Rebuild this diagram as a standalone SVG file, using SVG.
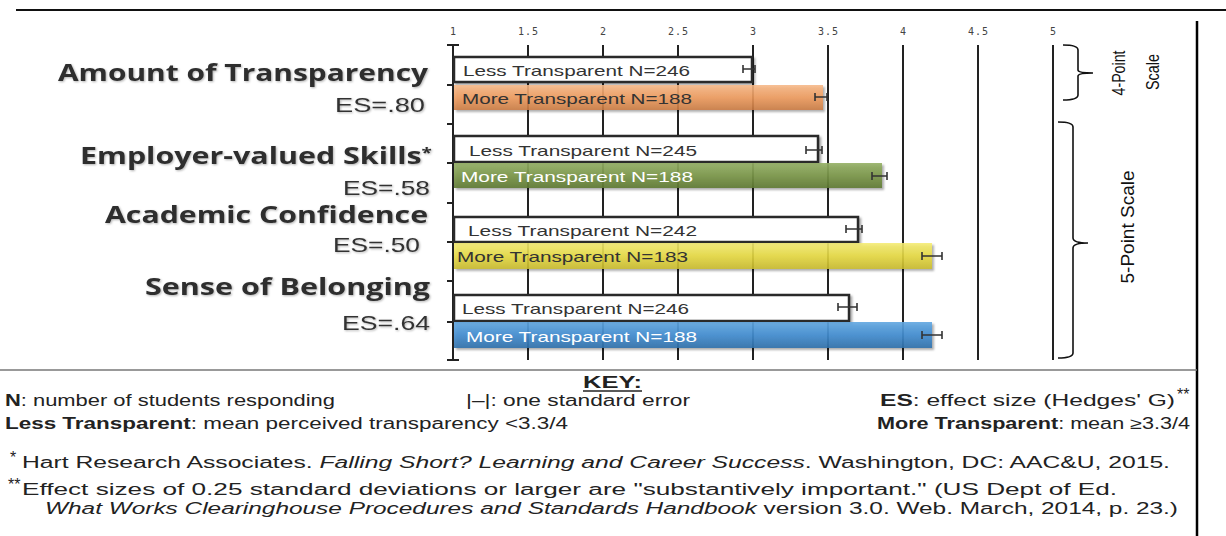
<svg xmlns="http://www.w3.org/2000/svg" width="1226" height="536" viewBox="0 0 1226 536">
<style>
.lab{font-family:"Open Sans","DejaVu Sans",sans-serif;font-weight:700;font-size:24px;fill:#2e2e2e;}
.es{font-family:"Liberation Sans",Arial,sans-serif;font-size:21px;fill:#333;}
.bt{font-family:"Liberation Sans",Arial,sans-serif;font-size:15px;fill:#333;}
.bw{font-family:"Liberation Sans",Arial,sans-serif;font-size:15px;fill:#fff;}
.ax{font-family:"DejaVu Sans Mono",monospace;font-size:10px;fill:#444;text-anchor:middle;}
.grid{stroke:#222;stroke-width:2;fill:none;}
.less{fill:#fff;stroke:#2a2a2a;stroke-width:2.5;}
.err{stroke:#333;stroke-width:1.6;fill:none;}
.br{stroke:#111;stroke-width:1.6;fill:none;}
.sc{font-family:"Liberation Sans",Arial,sans-serif;fill:#111;text-anchor:middle;}
.k{font-family:"Liberation Sans",Arial,sans-serif;font-size:16px;fill:#222;}
.b{font-weight:700;}
.i{font-style:italic;}
</style>
<defs>
<filter id="sh" x="-5%" y="-20%" width="110%" height="160%">
<feDropShadow dx="2" dy="2" stdDeviation="1.2" flood-color="#000" flood-opacity="0.35"/>
</filter>
<filter id="ts" x="-5%" y="-20%" width="110%" height="150%">
<feDropShadow dx="1" dy="1" stdDeviation="0.8" flood-color="#000" flood-opacity="0.3"/>
</filter>
<linearGradient id="gO" x1="0" y1="0" x2="0" y2="1"><stop offset="0" stop-color="#F6B887"/><stop offset="0.5" stop-color="#EE9A5C"/><stop offset="1" stop-color="#C97A42"/></linearGradient>
<linearGradient id="gG" x1="0" y1="0" x2="0" y2="1"><stop offset="0" stop-color="#95B066"/><stop offset="0.5" stop-color="#7A9648"/><stop offset="1" stop-color="#5E7932"/></linearGradient>
<linearGradient id="gY" x1="0" y1="0" x2="0" y2="1"><stop offset="0" stop-color="#F4EC74"/><stop offset="0.5" stop-color="#E6D940"/><stop offset="1" stop-color="#C7B92C"/></linearGradient>
<linearGradient id="gB" x1="0" y1="0" x2="0" y2="1"><stop offset="0" stop-color="#62A8E2"/><stop offset="0.5" stop-color="#428DD0"/><stop offset="1" stop-color="#3070AA"/></linearGradient>
</defs>
<rect width="1226" height="536" fill="#fff"/>

<g id="frame">
<line x1="16" y1="10" x2="1226" y2="10" stroke="#111" stroke-width="2"/>
<line x1="1197" y1="21" x2="1197" y2="536" stroke="#000" stroke-width="2.5"/>
<line x1="0" y1="370" x2="1197" y2="370" stroke="#777" stroke-width="1.5"/>
</g>

<g id="axis">
<text class="ax" x="453" y="35">1</text>
<text class="ax" x="528" y="35" textLength="20">1.5</text>
<text class="ax" x="603" y="35">2</text>
<text class="ax" x="678" y="35" textLength="20">2.5</text>
<text class="ax" x="753" y="35">3</text>
<text class="ax" x="828" y="35" textLength="20">3.5</text>
<text class="ax" x="903" y="35">4</text>
<text class="ax" x="978" y="35" textLength="20">4.5</text>
<text class="ax" x="1053" y="35">5</text>
<path class="grid" d="M528 45V360M603 45V360M678 45V360M753 45V360M828 45V360M903 45V360M978 45V360M1053 45V360"/>
<path class="grid" d="M453 45V360M447 45H459M447 360H459M447 85H453M447 124H453M447 163H453M447 203H453M447 242H453M447 281H453M447 322H453"/>
</g>

<g id="labels" filter="url(#ts)">
<text class="lab" x="58" y="81" textLength="370" lengthAdjust="spacingAndGlyphs">Amount of Transparency</text>
<text class="es" x="335" y="112" textLength="90" lengthAdjust="spacingAndGlyphs">ES=.80</text>
<text class="lab" x="80" y="164" textLength="352" lengthAdjust="spacingAndGlyphs">Employer-valued Skills<tspan font-size="15" dy="-6">*</tspan></text>
<text class="es" x="343" y="195" textLength="87" lengthAdjust="spacingAndGlyphs">ES=.58</text>
<text class="lab" x="105" y="223" textLength="323" lengthAdjust="spacingAndGlyphs">Academic Confidence</text>
<text class="es" x="333" y="252" textLength="87" lengthAdjust="spacingAndGlyphs">ES=.50</text>
<text class="lab" x="145" y="295" textLength="285" lengthAdjust="spacingAndGlyphs">Sense of Belonging</text>
<text class="es" x="342" y="330" textLength="88" lengthAdjust="spacingAndGlyphs">ES=.64</text>
</g>

<g id="cat1-transparency">
<rect class="less" x="454" y="57" width="298" height="25" filter="url(#sh)"/>
<text class="bt" x="463" y="76" textLength="227" lengthAdjust="spacingAndGlyphs">Less Transparent N=246</text>
<path class="err" d="M743 69H755M743 65V73M755 65V73"/>
<rect x="454" y="85" width="369" height="25" fill="url(#gO)" fill-opacity="0.88" filter="url(#sh)"/>
<text class="bt" x="462" y="104" textLength="230" lengthAdjust="spacingAndGlyphs">More Transparent N=188</text>
<path class="err" d="M815 97H827M815 93V101M827 93V101"/>
</g>

<g id="cat2-skills">
<rect class="less" x="454" y="136" width="364" height="26" filter="url(#sh)"/>
<text class="bt" x="469" y="156" textLength="228" lengthAdjust="spacingAndGlyphs">Less Transparent N=245</text>
<path class="err" d="M806 150H822M806 146V154M822 146V154"/>
<rect x="454" y="163" width="428" height="25" fill="url(#gG)" fill-opacity="0.9" filter="url(#sh)"/>
<text class="bw" x="461" y="182" textLength="232" lengthAdjust="spacingAndGlyphs">More Transparent N=188</text>
<path class="err" d="M872 176H887M872 172V180M887 172V180"/>
</g>

<g id="cat3-confidence">
<rect class="less" x="454" y="217" width="404" height="25" filter="url(#sh)"/>
<text class="bt" x="468" y="236" textLength="229" lengthAdjust="spacingAndGlyphs">Less Transparent N=242</text>
<path class="err" d="M846 229H862M846 225V233M862 225V233"/>
<rect x="454" y="243" width="478" height="26" fill="url(#gY)" fill-opacity="0.88" filter="url(#sh)"/>
<text class="bt" x="457" y="262" textLength="231" lengthAdjust="spacingAndGlyphs">More Transparent N=183</text>
<path class="err" d="M922 256H942M922 252V260M942 252V260"/>
</g>

<g id="cat4-belonging">
<rect class="less" x="454" y="295" width="395" height="26" filter="url(#sh)"/>
<text class="bt" x="462" y="314" textLength="227" lengthAdjust="spacingAndGlyphs">Less Transparent N=246</text>
<path class="err" d="M838 307H857M838 303V311M857 303V311"/>
<rect x="454" y="322" width="478" height="26" fill="url(#gB)" fill-opacity="0.9" filter="url(#sh)"/>
<text class="bw" x="466" y="342" textLength="231" lengthAdjust="spacingAndGlyphs">More Transparent N=188</text>
<path class="err" d="M922 335H942M922 331V339M942 331V339"/>
</g>

<g id="scale-4">
<path class="br" d="M1063 45Q1078 45 1078 50V70Q1078 73 1093 73Q1078 73 1078 76V95Q1078 100 1063 100"/>
<text class="sc" font-size="18" textLength="45" lengthAdjust="spacingAndGlyphs" transform="translate(1125 73) rotate(-90)">4-Point</text>
<text class="sc" font-size="18" textLength="36" lengthAdjust="spacingAndGlyphs" transform="translate(1159 72) rotate(-90)">Scale</text>
</g>

<g id="scale-5">
<path class="br" d="M1058 122Q1073 122 1073 127V238Q1073 243 1088 243Q1073 243 1073 248V353Q1073 358 1058 358"/>
<text class="sc" font-size="19" textLength="113" lengthAdjust="spacingAndGlyphs" transform="translate(1134 227) rotate(-90)">5-Point Scale</text>
</g>

<g id="key">
<text class="k b" x="583" y="388" font-size="17" textLength="59" lengthAdjust="spacingAndGlyphs">KEY:</text>
<line x1="583" y1="391" x2="642" y2="391" stroke="#222" stroke-width="1.3"/>
<text class="k" x="5" y="406" textLength="330" lengthAdjust="spacingAndGlyphs"><tspan class="b">N</tspan>: number of students responding</text>
<text class="k" x="466" y="406" textLength="224" lengthAdjust="spacingAndGlyphs">|–|: one standard error</text>
<text class="k" x="880" y="406" textLength="295" lengthAdjust="spacingAndGlyphs"><tspan class="b">ES</tspan>: effect size (Hedges' G)</text>
<text class="k" x="1177" y="400" font-size="10">**</text>
<text class="k" x="5" y="429" textLength="563" lengthAdjust="spacingAndGlyphs"><tspan class="b">Less Transparent</tspan>: mean perceived transparency &lt;3.3/4</text>
<text class="k" x="877" y="429" textLength="313" lengthAdjust="spacingAndGlyphs"><tspan class="b">More Transparent</tspan>: mean ≥3.3/4</text>
<text class="k" x="10" y="463" font-size="10">*</text>
<text class="k" x="22" y="468" textLength="1148" lengthAdjust="spacingAndGlyphs">Hart Research Associates. <tspan class="i">Falling Short? Learning and Career Success</tspan>. Washington, DC: AAC&amp;U, 2015.</text>
<text class="k" x="8" y="490" font-size="10">**</text>
<text class="k" x="22" y="495" textLength="1095" lengthAdjust="spacingAndGlyphs">Effect sizes of 0.25 standard deviations or larger are "substantively important." (US Dept of Ed.</text>
<text class="k" x="45" y="514" textLength="1133" lengthAdjust="spacingAndGlyphs"><tspan class="i">What Works Clearinghouse Procedures and Standards Handbook</tspan> version 3.0. Web. March, 2014, p. 23.)</text>
</g>
</svg>
